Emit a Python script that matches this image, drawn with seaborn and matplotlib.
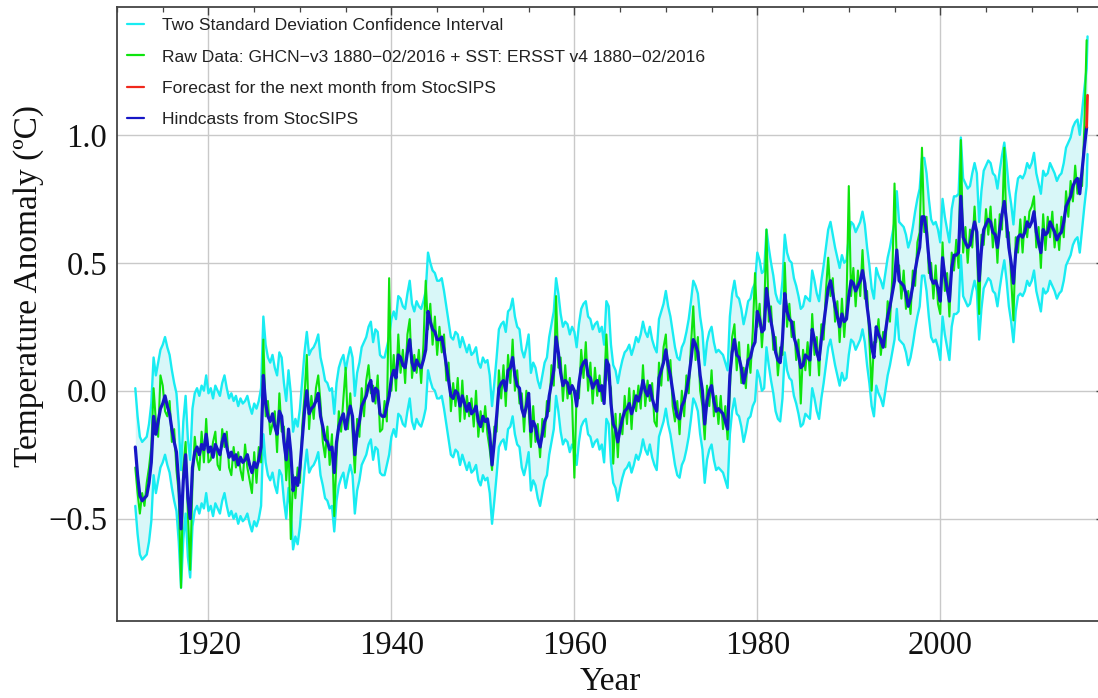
import numpy as np
import pandas as pd
import matplotlib
matplotlib.use("Agg")
import matplotlib.pyplot as plt
import seaborn as sns
from matplotlib.ticker import MultipleLocator, FuncFormatter
from matplotlib.lines import Line2D

# ---------------- data (quarterly samples) ----------------
start_year = 1912.0
step_years = 0.25

hindcast = [
    -0.22, -0.33, -0.41, -0.43,  # 1912
    -0.42, -0.41, -0.36, -0.28,  # 1913
    -0.10, -0.17, -0.12, -0.07,  # 1914
    -0.05, -0.02, -0.06, -0.09,  # 1915
    -0.15, -0.20, -0.24, -0.36,  # 1916
    -0.54, -0.35, -0.25, -0.42,  # 1917
    -0.50, -0.30, -0.24, -0.22,  # 1918
    -0.25, -0.21, -0.23, -0.17,  # 1919
    -0.24, -0.22, -0.26, -0.21,  # 1920
    -0.23, -0.25, -0.20, -0.17,  # 1921
    -0.22, -0.26, -0.24, -0.27,  # 1922
    -0.25, -0.29, -0.26, -0.28,  # 1923
    -0.27, -0.25, -0.29, -0.32,  # 1924
    -0.28, -0.30, -0.27, -0.22,  # 1925
    0.06, -0.05, -0.10, -0.12,   # 1926
    -0.09, -0.14, -0.17, -0.08,  # 1927
    -0.10, -0.20, -0.27, -0.15,  # 1928
    -0.24, -0.39, -0.34, -0.37,  # 1929
    -0.30, -0.19, -0.08, 0.00,   # 1930
    -0.09, -0.07, -0.06, -0.04,  # 1931
    -0.01, -0.10, -0.14, -0.19,  # 1932
    -0.20, -0.23, -0.22, -0.32,  # 1933
    -0.20, -0.14, -0.11, -0.09,  # 1934
    -0.15, -0.10, -0.06, -0.10,  # 1935
    -0.25, -0.16, -0.12, -0.06,  # 1936
    -0.04, -0.02, 0.02, 0.04,    # 1937
    -0.04, 0.01, 0.00, -0.09,    # 1938
    -0.10, -0.10, -0.06, -0.02,  # 1939
    0.05, 0.08, 0.05, 0.14,      # 1940
    0.13, 0.10, 0.09, 0.15,      # 1941
    0.20, 0.11, 0.08, 0.12,      # 1942
    0.10, 0.09, 0.12, 0.16,      # 1943
    0.31, 0.27, 0.24, 0.23,      # 1944
    0.20, 0.20, 0.21, 0.16,      # 1945
    0.10, 0.04, -0.02, -0.03,    # 1946
    0.00, -0.01, -0.06, -0.02,   # 1947
    -0.05, -0.08, -0.05, -0.09,  # 1948
    -0.08, -0.06, -0.12, -0.14,  # 1949
    -0.10, -0.12, -0.11, -0.17,  # 1950
    -0.29, -0.20, -0.10, 0.01,   # 1951
    0.03, 0.04, 0.00, 0.08,      # 1952
    0.09, 0.13, 0.06, 0.02,      # 1953
    0.01, -0.07, -0.10, -0.06,   # 1954
    -0.01, -0.16, -0.12, -0.14,  # 1955
    -0.19, -0.22, -0.17, -0.12,  # 1956
    -0.10, -0.02, 0.03, 0.08,    # 1957
    0.21, 0.15, 0.07, 0.02,      # 1958
    0.04, 0.03, -0.01, 0.02,     # 1959
    0.00, -0.06, 0.03, 0.09,     # 1960
    0.11, 0.12, 0.06, 0.05,      # 1961
    0.01, 0.03, 0.04, 0.00,      # 1962
    0.02, -0.05, 0.12, 0.10,     # 1963
    -0.05, -0.13, -0.15, -0.20,  # 1964
    -0.15, -0.11, -0.08, -0.07,  # 1965
    -0.05, -0.09, -0.06, -0.02,  # 1966
    -0.04, -0.01, 0.04, 0.00,    # 1967
    -0.02, 0.02, -0.03, -0.06,   # 1968
    -0.08, 0.05, 0.08, 0.11,     # 1969
    0.16, 0.10, 0.06, 0.00,      # 1970
    -0.06, -0.10, -0.11, -0.06,  # 1971
    -0.04, 0.00, 0.05, 0.12,     # 1972
    0.20, 0.18, 0.15, 0.06,      # 1973
    0.00, -0.13, -0.04, 0.00,    # 1974
    0.02, -0.04, -0.08, -0.07,   # 1975
    -0.08, -0.09, -0.12, -0.15,  # 1976
    0.06, 0.15, 0.20, 0.14,      # 1977
    0.13, 0.09, 0.03, 0.07,      # 1978
    0.12, 0.13, 0.17, 0.19,      # 1979
    0.31, 0.28, 0.23, 0.24,      # 1980
    0.40, 0.33, 0.27, 0.22,      # 1981
    0.15, 0.12, 0.11, 0.20,      # 1982
    0.38, 0.31, 0.28, 0.27,      # 1983
    0.21, 0.18, 0.14, 0.09,      # 1984
    0.10, 0.14, 0.13, 0.12,      # 1985
    0.24, 0.20, 0.15, 0.12,      # 1986
    0.20, 0.26, 0.33, 0.40,      # 1987
    0.43, 0.38, 0.33, 0.29,      # 1988
    0.25, 0.30, 0.27, 0.28,      # 1989
    0.37, 0.43, 0.42, 0.39,      # 1990
    0.41, 0.43, 0.47, 0.42,      # 1991
    0.33, 0.26, 0.17, 0.13,      # 1992
    0.25, 0.22, 0.20, 0.17,      # 1993
    0.23, 0.29, 0.33, 0.38,      # 1994
    0.43, 0.55, 0.43, 0.42,      # 1995
    0.41, 0.38, 0.33, 0.36,      # 1996
    0.41, 0.47, 0.52, 0.56,      # 1997
    0.68, 0.68, 0.62, 0.52,      # 1998
    0.44, 0.42, 0.43, 0.40,      # 1999
    0.35, 0.52, 0.45, 0.40,      # 2000
    0.35, 0.48, 0.53, 0.53,      # 2001
    0.54, 0.76, 0.60, 0.58,      # 2002
    0.56, 0.57, 0.62, 0.66,      # 2003
    0.62, 0.43, 0.55, 0.63,      # 2004
    0.65, 0.67, 0.66, 0.62,      # 2005
    0.61, 0.56, 0.63, 0.69,      # 2006
    0.74, 0.66, 0.56, 0.50,      # 2007
    0.42, 0.54, 0.60, 0.61,      # 2008
    0.60, 0.62, 0.66, 0.64,      # 2009
    0.66, 0.70, 0.62, 0.58,      # 2010
    0.54, 0.63, 0.61, 0.62,      # 2011
    0.66, 0.64, 0.62, 0.59,      # 2012
    0.61, 0.62, 0.66, 0.72,      # 2013
    0.74, 0.76, 0.80, 0.82,      # 2014
    0.83, 0.77, 0.86, 0.95,      # 2015
    1.03,                        # 2016
]

raw_data = [
    -0.30, -0.40, -0.48, -0.40,  # 1912
    -0.45, -0.36, -0.30, -0.22,  # 1913
    0.01, -0.12, -0.18, 0.06,    # 1914
    0.02, -0.08, -0.10, -0.04,   # 1915
    -0.20, -0.15, -0.31, -0.40,  # 1916
    -0.77, -0.30, -0.20, -0.48,  # 1917
    -0.70, -0.36, -0.18, -0.27,  # 1918
    -0.31, -0.16, -0.28, -0.11,  # 1919
    -0.28, -0.27, -0.20, -0.16,  # 1920
    -0.29, -0.31, -0.15, -0.22,  # 1921
    -0.16, -0.30, -0.33, -0.22,  # 1922
    -0.30, -0.24, -0.31, -0.35,  # 1923
    -0.21, -0.30, -0.35, -0.40,  # 1924
    -0.24, -0.36, -0.22, -0.28,  # 1925
    0.20, -0.10, -0.04, -0.17,   # 1926
    -0.13, -0.08, -0.24, -0.01,  # 1927
    -0.16, -0.14, -0.35, -0.20,  # 1928
    -0.58, -0.33, -0.42, -0.30,  # 1929
    -0.36, -0.14, -0.02, 0.14,   # 1930
    -0.15, -0.02, -0.11, 0.01,   # 1931
    0.06, -0.05, -0.20, -0.26,   # 1932
    -0.14, -0.29, -0.17, -0.49,  # 1933
    -0.26, -0.08, -0.16, -0.03,  # 1934
    0.09, -0.15, -0.01, -0.16,   # 1935
    -0.32, -0.11, -0.18, 0.01,   # 1936
    -0.10, 0.04, 0.10, -0.01,    # 1937
    0.02, -0.05, 0.06, -0.16,    # 1938
    -0.15, -0.04, -0.12, 0.44,   # 1939
    0.00, 0.14, 0.00, 0.22,      # 1940
    0.07, 0.16, 0.03, 0.22,      # 1941
    0.28, 0.05, 0.14, 0.07,      # 1942
    0.16, 0.03, 0.18, 0.43,      # 1943
    0.24, 0.34, 0.18, 0.29,      # 1944
    0.14, 0.25, 0.15, 0.22,      # 1945
    0.04, 0.11, -0.08, 0.03,     # 1946
    -0.06, 0.05, -0.12, 0.04,    # 1947
    -0.11, -0.02, -0.10, -0.03,  # 1948
    -0.14, 0.00, -0.18, -0.08,   # 1949
    -0.16, -0.06, -0.17, -0.23,  # 1950
    -0.31, -0.14, -0.16, 0.08,   # 1951
    -0.03, 0.10, -0.06, 0.14,    # 1952
    0.03, 0.20, 0.00, 0.08,      # 1953
    -0.05, -0.01, -0.16, 0.00,   # 1954
    -0.07, -0.22, -0.06, -0.20,  # 1955
    -0.13, -0.26, -0.11, -0.18,  # 1956
    -0.04, -0.08, 0.10, 0.02,    # 1957
    0.37, 0.09, 0.13, -0.04,     # 1958
    0.10, -0.03, 0.05, -0.04,    # 1959
    -0.34, 0.00, -0.03, 0.16,    # 1960
    0.05, 0.19, 0.00, 0.11,      # 1961
    -0.05, 0.09, -0.02, 0.06,    # 1962
    -0.04, 0.01, 0.22, 0.04,     # 1963
    0.01, -0.285, -0.09, -0.26,  # 1964
    -0.09, -0.17, -0.02, -0.13,  # 1965
    0.01, -0.15, 0.00, -0.08,    # 1966
    0.02, -0.07, 0.10, -0.06,    # 1967
    0.04, -0.04, 0.03, -0.12,    # 1968
    -0.14, 0.11, 0.02, 0.17,     # 1969
    0.22, 0.04, 0.12, -0.06,     # 1970
    -0.12, -0.04, -0.17, 0.00,   # 1971
    -0.10, 0.06, -0.01, 0.18,    # 1972
    0.33, 0.12, 0.21, 0.00,      # 1973
    -0.06, -0.19, 0.02, -0.06,   # 1974
    0.08, -0.10, -0.02, -0.13,   # 1975
    -0.02, -0.15, -0.06, -0.19,  # 1976
    0.00, 0.21, 0.26, 0.08,      # 1977
    0.19, 0.03, 0.09, 0.01,      # 1978
    0.18, 0.07, 0.23, 0.46,      # 1979
    0.25, 0.34, 0.17, 0.30,      # 1980
    0.63, 0.27, 0.33, 0.16,      # 1981
    0.21, 0.06, 0.17, 0.14,      # 1982
    0.50, 0.25, 0.34, 0.21,      # 1983
    0.27, 0.12, 0.20, -0.05,     # 1984
    0.16, 0.08, 0.19, 0.06,      # 1985
    0.30, 0.14, 0.21, 0.06,      # 1986
    0.26, 0.20, 0.39, 0.52,      # 1987
    0.37, 0.44, 0.27, 0.35,      # 1988
    0.19, 0.36, 0.21, 0.34,      # 1989
    0.80, 0.37, 0.48, 0.33,      # 1990
    0.47, 0.37, 0.55, 0.36,      # 1991
    0.39, 0.20, 0.00, 0.19,      # 1992
    0.19, 0.28, 0.14, 0.23,      # 1993
    0.17, 0.35, 0.27, 0.44,      # 1994
    0.81, 0.49, 0.49, 0.36,      # 1995
    0.47, 0.32, 0.39, 0.30,      # 1996
    0.47, 0.41, 0.58, 0.62,      # 1997
    0.95, 0.62, 0.68, 0.46,      # 1998
    0.50, 0.36, 0.49, 0.34,      # 1999
    0.30, 0.58, 0.39, 0.46,      # 2000
    0.29, 0.54, 0.47, 0.59,      # 2001
    0.48, 0.98, 0.54, 0.64,      # 2002
    0.50, 0.63, 0.56, 0.72,      # 2003
    0.56, 0.30, 0.61, 0.57,      # 2004
    0.71, 0.61, 0.72, 0.56,      # 2005
    0.67, 0.50, 0.69, 0.63,      # 2006
    0.95, 0.60, 0.62, 0.44,      # 2007
    0.275, 0.60, 0.54, 0.67,     # 2008
    0.54, 0.68, 0.60, 0.70,      # 2009
    0.72, 0.76, 0.56, 0.64,      # 2010
    0.48, 0.69, 0.55, 0.68,      # 2011
    0.60, 0.70, 0.56, 0.65,      # 2012
    0.55, 0.68, 0.60, 0.78,      # 2013
    0.68, 0.82, 0.74, 0.88,      # 2014
    0.77, 0.83, 0.80, 1.03,      # 2015
    1.37,                        # 2016
]

forecast_year = 2016.1
forecast_value = 1.155
ci_half_width = 0.23   # two-standard-deviation half width

x_ticks = [1920, 1940, 1960, 1980, 2000]
y_ticks = [-0.5, 0.0, 0.5, 1.0]

legend_labels = [
    "Two Standard Deviation Confidence Interval",
    "Raw Data: GHCN\u2212v3 1880\u221202/2016 + SST: ERSST v4 1880\u221202/2016",
    "Forecast for the next month from StocSIPS",
    "Hindcasts from StocSIPS",
]

# ---------------- frames ----------------
years = start_year + step_years * np.arange(len(hindcast))
raw_years = start_year + step_years * np.arange(len(raw_data))
hind_df = pd.DataFrame({"year": years, "value": hindcast})
raw_df = pd.DataFrame({"year": raw_years, "value": raw_data})
ci_center = np.array(list(hindcast) + [forecast_value])
ci_years = np.array(list(years) + [forecast_year])
ci_df = pd.DataFrame({"year": ci_years,
                      "upper": ci_center + ci_half_width,
                      "lower": ci_center - ci_half_width})
fc_df = pd.DataFrame({"year": [years[-1], forecast_year],
                      "value": [hindcast[-1], forecast_value]})

# ---------------- style ----------------
sns.set_style("white")
plt.rcParams["font.family"] = ["Liberation Serif", "DejaVu Serif"]

c_cyan = "#19ecf2"
c_fill = "#d8f7f8"
c_green = "#0ee40e"
c_red = "#f0281c"
c_blue = "#1616c6"

fig = plt.figure(figsize=(10.98, 6.98), dpi=100)
# right edge of the frame lies just past the picture edge, as in the reference
ax = fig.add_axes([117 / 1098, 1 - 621 / 698, 987 / 1098, 614 / 698])

ax.fill_between(ci_df["year"], ci_df["lower"], ci_df["upper"],
                color=c_fill, lw=0, zorder=1)
sns.lineplot(data=ci_df, x="year", y="upper", ax=ax, color=c_cyan, lw=1.7,
             estimator=None, sort=False, zorder=2)
sns.lineplot(data=ci_df, x="year", y="lower", ax=ax, color=c_cyan, lw=1.7,
             estimator=None, sort=False, zorder=2)
sns.lineplot(data=raw_df, x="year", y="value", ax=ax, color=c_green, lw=1.5,
             estimator=None, sort=False, zorder=3)
sns.lineplot(data=hind_df, x="year", y="value", ax=ax, color=c_blue, lw=2.3,
             estimator=None, sort=False, zorder=4)
sns.lineplot(data=fc_df, x="year", y="value", ax=ax, color=c_red, lw=2.0,
             estimator=None, sort=False, zorder=5)

ax.set_xlim(1910.0, 2017.9)
ax.set_ylim(-0.9, 1.5)

ax.set_xticks(x_ticks)
ax.set_yticks(y_ticks)
ax.xaxis.set_minor_locator(MultipleLocator(5))
ax.yaxis.set_minor_locator(MultipleLocator(0.1))
ax.yaxis.set_major_formatter(FuncFormatter(lambda v, p: f"{v:.1f}".replace("-", "\u2212")))
ax.grid(True, which="major", color="#c9c9c9", lw=1.0, zorder=0)
ax.set_axisbelow(True)

ax.tick_params(which="both", direction="in", top=True, right=True,
               labelsize=23.5, colors="#444444", labelcolor="#111111")
ax.tick_params(which="major", length=6, width=1.0, pad=7)
ax.tick_params(which="minor", length=3.5, width=0.9)
for s in ax.spines.values():
    s.set_color("#444444")
    s.set_linewidth(1.3)

ax.set_xlabel("Year", fontsize=24, color="#111111", labelpad=4)
ax.set_ylabel("Temperature Anomaly (\u00baC)", fontsize=24, color="#111111")
ax.yaxis.set_label_coords(-0.074, 0.545)

handles = [Line2D([], [], color=c, lw=1.6) for c in (c_cyan, c_green, c_red, c_blue)]
leg = ax.legend(handles, legend_labels, loc="upper left",
                bbox_to_anchor=(127 / 1098, 1 - 18 / 698), bbox_transform=fig.transFigure,
                frameon=False, borderpad=0, borderaxespad=0,
                handlelength=0.95, handletextpad=1.05, labelspacing=0.92,
                prop={"family": ["Liberation Sans", "DejaVu Sans"], "size": 12.6})
for t in leg.get_texts():
    t.set_color("#222222")

fig.savefig("out.png", dpi=100)
